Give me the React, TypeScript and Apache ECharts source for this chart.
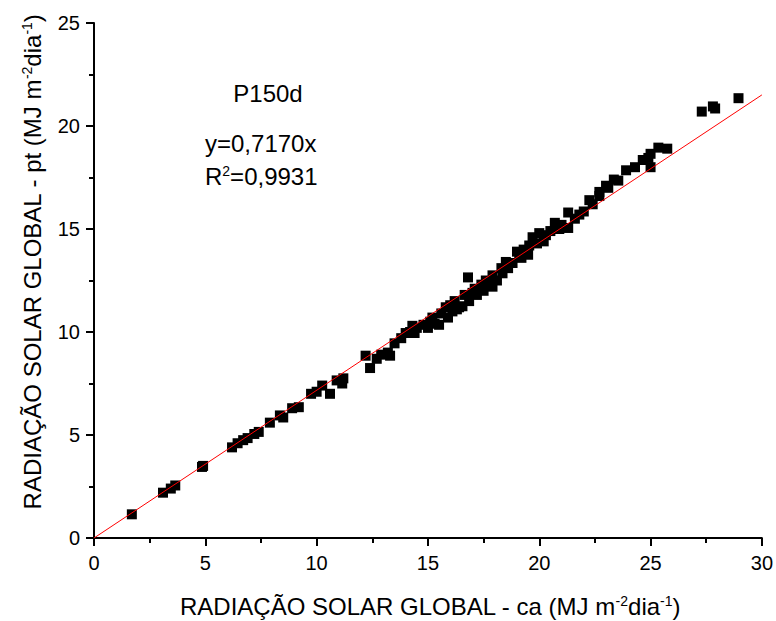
import React, { useEffect, useRef } from "react";
import * as echarts from "echarts";

const xTicks = [0, 5, 10, 15, 20, 25, 30];
const yTicks = [0, 5, 10, 15, 20, 25];
const slope = 0.717;
const r2Label = "0,9931";
const panelLabel = "P150d";

const obsCa: number[] = [
  1.7, 3.1, 3.45, 3.65, 4.85, 4.9, 6.2, 6.45, 6.7, 6.9, 7.2, 7.4, 7.9, 8.35, 8.5, 8.9, 9.2,
  9.75, 10.0, 10.25, 10.6, 10.9, 11.2, 11.15, 12.2, 12.4, 12.7, 12.9, 13.2, 13.3, 13.5,
  14.0, 13.8, 14.2, 14.4, 14.5, 14.8, 15.0, 15.2, 15.3, 15.5, 15.6, 15.8, 15.9, 16.1, 16.2,
  16.0, 16.4, 16.55, 16.65, 16.8, 16.85, 17.0, 17.2, 17.4, 17.5, 17.6, 17.9, 17.9, 18.1,
  18.3, 18.35, 18.5, 18.8, 19.0, 19.1, 19.3, 19.55, 19.5, 19.7, 19.9, 20.2, 20.3, 20.7,
  20.9, 21.3, 21.3, 21.6, 22.0, 22.25, 22.7, 22.7, 23.0, 23.1, 23.35, 23.55, 23.9, 24.3,
  24.65, 24.9, 25.0, 25.0, 25.35, 25.75, 27.3, 27.8, 27.9, 28.95,
  14.3, 15.1, 16.3, 17.1, 17.7, 18.6, 19.2, 20.0, 20.5, 21.0, 21.8, 22.4,
];
const obsPt: number[] = [
  1.15, 2.2, 2.4, 2.55, 3.45, 3.5, 4.4, 4.6, 4.75, 4.85, 5.05, 5.15, 5.6, 5.95, 5.85, 6.3, 6.35,
  7.0, 7.1, 7.4, 7.0, 7.65, 7.75, 7.5, 8.85, 8.25, 8.7, 8.9, 9.0, 8.85, 9.45,
  9.95, 9.7, 10.0, 9.95, 10.2, 10.35, 10.2, 10.7, 10.4, 10.35, 10.9, 11.2, 10.7, 11.0, 11.5,
  11.3, 11.2, 11.25, 11.8, 12.65, 11.5, 11.9, 11.8, 12.3, 12.0, 12.5, 12.75, 12.2, 12.5,
  13.1, 12.85, 13.4, 13.35, 13.9, 13.7, 14.0, 14.2, 13.75, 14.6, 14.3, 14.4, 14.7, 15.3,
  15.0, 15.8, 15.05, 15.5, 15.85, 16.4, 16.8, 16.6, 17.1, 17.0, 17.4, 17.35, 17.85, 18.0,
  18.35, 18.45, 18.0, 18.65, 18.95, 18.9, 20.7, 20.95, 20.85, 21.35,
  10.3, 10.5, 11.1, 12.1, 12.4, 13.1, 13.6, 14.8, 14.9, 15.2, 15.7, 16.2,
];

export default function App() {
  const ref = useRef<HTMLDivElement>(null);
  useEffect(() => {
    if (!ref.current) return;
    const chart = echarts.init(ref.current, null, { renderer: "svg" });
    const font = "Liberation Sans, Arial, sans-serif";
    const pts = obsCa.map((x, i) => [x, obsPt[i]]);
    const xMax = xTicks[xTicks.length - 1];
    const axisCommon = {
      type: "value" as const,
      interval: 5,
      axisLine: { show: true, lineStyle: { color: "#000", width: 2 } },
      axisTick: { show: true, inside: false, length: 8, lineStyle: { color: "#000", width: 2 } },
      minorTick: { show: true, splitNumber: 2, length: 5, lineStyle: { color: "#000", width: 2 } },
      splitLine: { show: false },
      axisLabel: { color: "#000", fontSize: 20, fontFamily: font },
    };
    const sup = { fontSize: 14, fontFamily: font, color: "#000", verticalAlign: "bottom", padding: [0, 0, 11, 0] };
    const base = { fontSize: 24, fontFamily: font, color: "#000" };
    chart.setOption({
      animation: false,
      backgroundColor: "#fff",
      grid: { left: 94, right: 9, top: 23, bottom: 83, containLabel: false },
      xAxis: { ...axisCommon, min: 0, max: xMax, axisLabel: { ...axisCommon.axisLabel, margin: 15 } },
      yAxis: { ...axisCommon, min: 0, max: yTicks[yTicks.length - 1], axisLabel: { ...axisCommon.axisLabel, margin: 14 } },
      series: [
        {
          type: "scatter",
          data: pts,
          symbol: "rect",
          symbolSize: 10,
          itemStyle: { color: "#000", opacity: 1 },
          z: 2,
        },
        {
          type: "line",
          data: [[0, 0], [xMax, slope * xMax]],
          symbol: "none",
          lineStyle: { color: "#ff0000", width: 1 },
          z: 3,
        },
      ],
      graphic: [
        {
          type: "text",
          x: 430,
          y: 606,
          style: {
            text: "RADIAÇÃO SOLAR GLOBAL - ca (MJ m{s|-2}dia{s|-1})",
            ...base,
            align: "center",
            verticalAlign: "middle",
            rich: { s: sup },
          },
        },
        {
          type: "text",
          x: 32,
          y: 262,
          rotation: Math.PI / 2,
          style: {
            text: "RADIAÇÃO SOLAR GLOBAL - pt (MJ m{s|-2}dia{s|-1})",
            ...base,
            align: "center",
            verticalAlign: "middle",
            rich: { s: sup },
          },
        },
        {
          type: "text",
          x: 268,
          y: 93,
          style: { text: panelLabel, ...base, fill: "#000", align: "center", verticalAlign: "middle" },
        },
        {
          type: "text",
          x: 205,
          y: 143,
          style: { text: "y=" + String(slope.toFixed(4)).replace(".", ",") + "x", ...base, fill: "#000", align: "left", verticalAlign: "middle" },
        },
        {
          type: "text",
          x: 205,
          y: 176,
          style: {
            text: "R{s|2}=" + r2Label,
            ...base,
            align: "left",
            verticalAlign: "middle",
            rich: { s: sup },
          },
        },
      ],
    });
    return () => chart.dispose();
  }, []);
  return <div ref={ref} style={{ width: 776, height: 621, position: "absolute", left: 0, top: 0 }} />;
}
